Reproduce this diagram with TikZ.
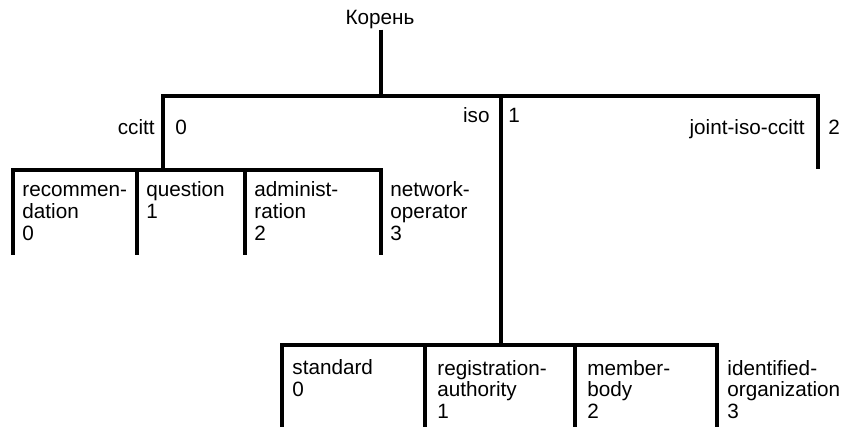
\documentclass[tikz,border=0pt]{standalone}
\usepackage{fontspec}
\setmainfont{Liberation Sans}

\begin{document}
\begin{tikzpicture}[x=.5pt, y=.5pt,
	arc/.style={line width=2pt, line join=miter},
	lbl/.style={inner sep=0pt, font=\fontsize{10.35}{11}\selectfont, align=left}]
	\useasboundingbox (0,0) rectangle (844,427);
	\node[lbl, anchor=base] (root) at (380,402) {Корень};
	\coordinate (ccitt) at (163,331);
	\coordinate (iso) at (501,331);
	\coordinate (joint) at (818,331);
	\coordinate (jbot) at (0,258);
	\coordinate (lbot) at (0,172);
	\coordinate (bbot) at (0,0);
	\coordinate (rec) at (13,257);
	\coordinate (que) at (137,257);
	\coordinate (adm) at (245,257);
	\coordinate (net) at (381,257);
	\coordinate (std) at (282,82);
	\coordinate (reg) at (425,82);
	\coordinate (mem) at (575,82);
	\coordinate (idf) at (717,82);
	\draw[arc] (root.south -| net) -- (net |- ccitt);
	\draw[arc] (ccitt |- rec) -- (ccitt) -- (joint) -- (joint |- jbot);
	\draw[arc] (iso) -- (iso |- std);
	\draw[arc] (rec |- lbot) -- (rec) -- (net) -- (net |- lbot);
	\draw[arc] (que) -- (que |- lbot);
	\draw[arc] (adm) -- (adm |- lbot);
	\draw[arc] (std |- bbot) -- (std) -- (idf) -- (idf |- bbot);
	\draw[arc] (reg) -- (reg |- bbot);
	\draw[arc] (mem) -- (mem |- bbot);
	\node[lbl, anchor=base east] (ccitt-l) at (155,292) {ccitt};
	\node[lbl, anchor=base west] (ccitt-n) at (175,292) {0};
	\node[lbl, anchor=base east] (iso-l) at (490,304) {iso};
	\node[lbl, anchor=base west] (iso-n) at (508,304) {1};
	\node[lbl, anchor=base east] (joint-l) at (805,292) {joint-iso-ccitt};
	\node[lbl, anchor=base west] (joint-n) at (828,292) {2};
	\node[lbl, anchor=base west] (rec-l) at (22,186) {recommen-\\dation\\0};
	\node[lbl, anchor=base west] (que-l) at (146,208) {question\\1};
	\node[lbl, anchor=base west] (adm-l) at (254,186) {administ-\\ration\\2};
	\node[lbl, anchor=base west] (net-l) at (390,186) {network-\\operator\\3};
	\node[lbl, anchor=base west] (std-l) at (292,30) {standard\\0};
	\node[lbl, anchor=base west] (reg-l) at (437,8) {registration-\\authority\\1};
	\node[lbl, anchor=base west] (mem-l) at (587,8) {member-\\body\\2};
	\node[lbl, anchor=base west] (idf-l) at (727,8) {identified-\\organization\\3};
\end{tikzpicture}
\end{document}
